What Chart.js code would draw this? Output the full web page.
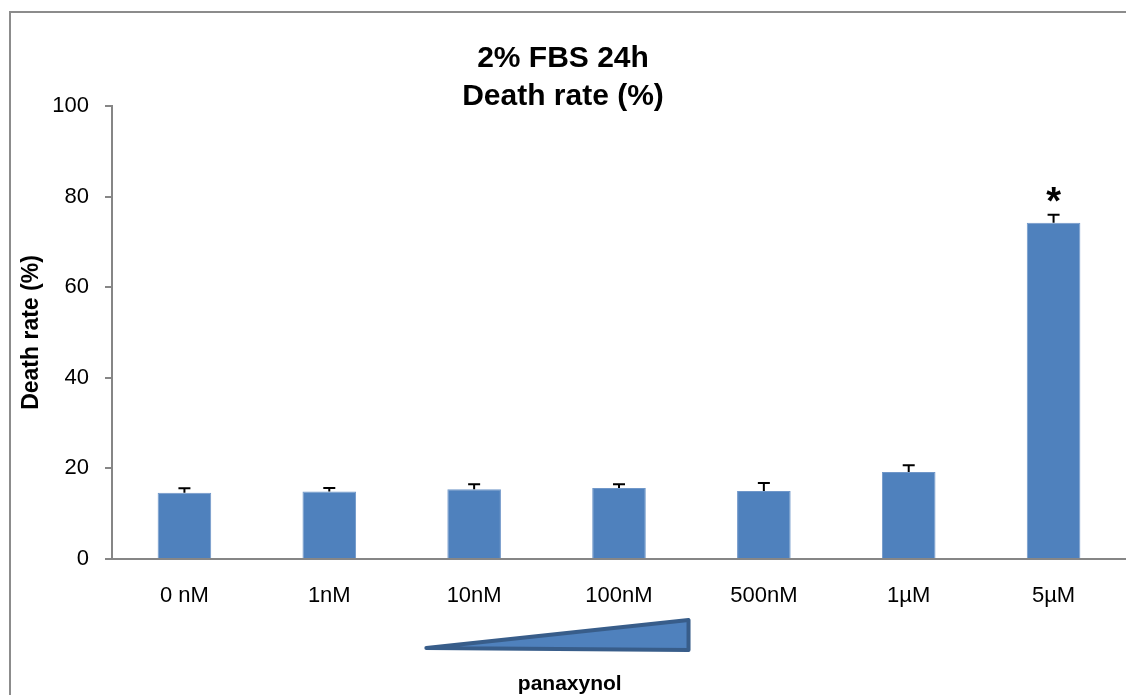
<!DOCTYPE html>
<html>
<head>
<meta charset="utf-8">
<script src="https://cdn.jsdelivr.net/npm/chart.js@4/dist/chart.umd.min.js"></script>
<style>
  html, body { margin: 0; padding: 0; background: #fff; }
  #wrap { width: 1126px; height: 695px; }
</style>
</head>
<body>
<div id="wrap"><canvas id="deathChart" width="1126" height="695"></canvas></div>
<script>
const doses = ['0 nM', '1nM', '10nM', '100nM', '500nM', '1\u00b5M', '5\u00b5M'];
const deathRate = [14.6, 14.9, 15.4, 15.7, 15.0, 19.2, 74.2];
const deathErr = [1.0, 0.8, 1.1, 0.8, 1.8, 1.5, 1.8];
const marks = ['', '', '', '', '', '', '*'];
const yTicks = [0, 20, 40, 60, 80, 100];
const xAxisLabel = 'panaxynol';

const FONT = "'Liberation Sans', Arial, sans-serif";
const AXIS_GREY = '#868686';

// grey frame round the picture, error bars, * marks, dose wedge and its label
const extras = {
  id: 'extras',
  beforeDraw(chart) {
    const c = chart.ctx;
    c.save();
    c.strokeStyle = '#8c8c8c';
    c.lineWidth = 2;
    c.strokeRect(10, 12, 2000, 2000);
    c.restore();
  },
  afterDatasetsDraw(chart) {
    const c = chart.ctx;
    const y = chart.scales.y;
    const x = chart.scales.x;
    const bars = chart.getDatasetMeta(0).data;
    c.save();
    c.strokeStyle = '#000';
    c.lineWidth = 2;
    bars.forEach((bar, i) => {
      const top = y.getPixelForValue(deathRate[i] + deathErr[i]);
      c.beginPath();
      c.moveTo(bar.x, bar.y);
      c.lineTo(bar.x, top);
      c.moveTo(bar.x - 6, top);
      c.lineTo(bar.x + 6, top);
      c.stroke();
      if (marks[i]) {
        c.fillStyle = '#000';
        c.font = 'bold 38px ' + FONT;
        c.textAlign = 'center';
        c.textBaseline = 'alphabetic';
        c.fillText(marks[i], bar.x, top - 1);
      }
    });

    // wedge under the labels, from between 1nM-10nM to between 100nM and 500nM
    const p0 = x.getPixelForValue(0);
    const step = x.getPixelForValue(1) - p0;
    const xl = p0 + 1.67 * step;
    const xr = p0 + 3.48 * step;
    const b = chart.chartArea.bottom;
    c.beginPath();
    c.moveTo(xl, b + 89);
    c.lineTo(xr, b + 61);
    c.lineTo(xr, b + 91);
    c.closePath();
    c.fillStyle = '#4F81BD';
    c.fill();
    c.lineJoin = 'round';
    c.lineWidth = 4;
    c.strokeStyle = '#385D8A';
    c.stroke();

    c.fillStyle = '#000';
    c.font = 'bold 21px ' + FONT;
    c.textAlign = 'center';
    c.textBaseline = 'middle';
    c.fillText(xAxisLabel, p0 + 2.66 * step, b + 125);
    c.restore();
  }
};

new Chart(document.getElementById('deathChart'), {
  type: 'bar',
  data: {
    labels: doses,
    datasets: [{
      data: deathRate,
      backgroundColor: '#4F81BD',
      borderColor: '#7097c9',
      borderWidth: 1,
      categoryPercentage: 1,
      barPercentage: 0.37
    }]
  },
  options: {
    responsive: false,
    animation: false,
    layout: { padding: { left: 0, right: 0, top: 0, bottom: 0 } },
    plugins: {
      legend: { display: false },
      tooltip: { enabled: false },
      title: {
        display: true,
        text: ['2% FBS 24h', 'Death rate (%)'],
        color: '#000',
        font: { family: FONT, size: 30, weight: 'bold', lineHeight: 1.25 },
        padding: { top: 40, bottom: -9 }
      }
    },
    scales: {
      x: {
        grid: { display: true, drawOnChartArea: false, drawTicks: false },
        border: { display: true, color: AXIS_GREY, width: 2 },
        ticks: { color: '#000', font: { family: FONT, size: 22 }, padding: 24, maxRotation: 0 },
        afterFit(scale) { scale.height = 136; }
      },
      y: {
        min: 0,
        max: 100,
        afterBuildTicks(scale) { scale.ticks = yTicks.map(v => ({ value: v })); },
        grid: { display: true, drawOnChartArea: false, tickLength: 7, color: AXIS_GREY, lineWidth: 2 },
        border: { display: true, color: AXIS_GREY, width: 2 },
        ticks: { color: '#000', font: { family: FONT, size: 22 }, padding: 16 },
        title: {
          display: true,
          text: 'Death rate (%)',
          color: '#000',
          font: { family: FONT, size: 23, weight: 'bold', lineHeight: 1.2 },
          padding: { top: 18, bottom: 0 }
        },
        afterFit(scale) { scale.width = 112; }
      }
    }
  },
  plugins: [extras]
});
</script>
</body>
</html>
